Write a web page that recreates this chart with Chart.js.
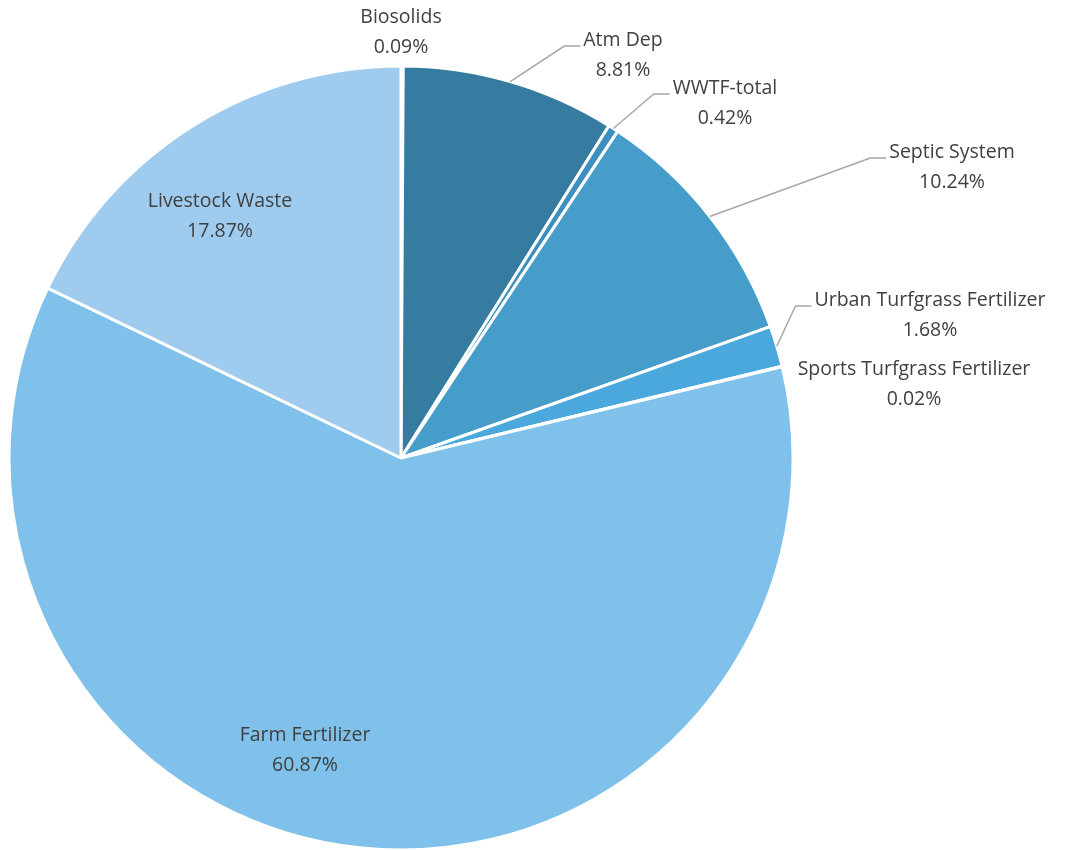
<!DOCTYPE html>
<html>
<head>
<meta charset="utf-8">
<script src="https://cdn.jsdelivr.net/npm/chart.js@4"></script>
<style>
  body { margin: 0; background: #fff; }
  #wrap { width: 1073px; height: 850px; }
</style>
</head>
<body>
<div id="wrap"><canvas id="pieChart" width="1073" height="850"></canvas></div>
<script>
// chart data
var sources = ["Biosolids", "Atm Dep", "WWTF-total", "Septic System",
  "Urban Turfgrass Fertilizer", "Sports Turfgrass Fertilizer", "Farm Fertilizer", "Livestock Waste"];
var shares = [0.09, 8.81, 0.42, 10.24, 1.68, 0.02, 60.87, 17.87];

// slice colours
var colors = ["#3a85b3", "#357ca0", "#3d8fbf", "#469dca", "#4aa8dc", "#6fb9e6", "#7fc1ea", "#9ecbee"];

// label placement: text center + whether a leader line is drawn
var labelPos = [
  { x: 401, y: 17, line: false },
  { x: 623, y: 40, line: true },
  { x: 725, y: 88, line: true },
  { x: 952, y: 152, line: true },
  { x: 930, y: 300, line: true },
  { x: 914, y: 369, line: false },
  { x: 305, y: 735, line: false },
  { x: 220, y: 201, line: false }
];

var labelPlugin = {
  id: "pieLabels",
  afterDraw: function(chart) {
    var ctx = chart.ctx;
    var arcs = chart.getDatasetMeta(0).data;
    ctx.save();
    ctx.font = "19.5px 'Open Sans'";
    ctx.textAlign = "center";
    ctx.textBaseline = "middle";
    arcs.forEach(function(arc, i) {
      var p = labelPos[i];
      if (p.line) {
        var mid = (arc.startAngle + arc.endAngle) / 2;
        var sx = arc.x + Math.cos(mid) * arc.outerRadius;
        var sy = arc.y + Math.sin(mid) * arc.outerRadius;
        var w = ctx.measureText(sources[i]).width;
        var ex = p.x - w / 2 - 3;
        ctx.strokeStyle = "#a6a6a6";
        ctx.lineWidth = 1.5;
        ctx.beginPath();
        ctx.moveTo(sx, sy);
        ctx.lineTo(ex - 16, p.y + 6);
        ctx.lineTo(ex, p.y + 6);
        ctx.stroke();
      }
      ctx.fillStyle = "#404040";
      ctx.fillText(sources[i], p.x, p.y);
      ctx.fillText(shares[i].toFixed(2) + "%", p.x, p.y + 30);
    });
    ctx.restore();
  }
};

var ctx = document.getElementById("pieChart").getContext("2d");
var pieChart = new Chart(ctx, {
  type: "pie",
  data: {
    labels: sources,
    datasets: [{
      data: shares,
      backgroundColor: colors,
      borderColor: "#ffffff",
      borderWidth: 3
    }]
  },
  options: {
    responsive: false,
    animation: false,
    radius: 392,
    layout: { padding: { left: 9, top: 66, right: 280, bottom: 0 } },
    plugins: {
      legend: { display: false },
      tooltip: { enabled: false }
    }
  },
  plugins: [labelPlugin]
});
</script>
</body>
</html>
